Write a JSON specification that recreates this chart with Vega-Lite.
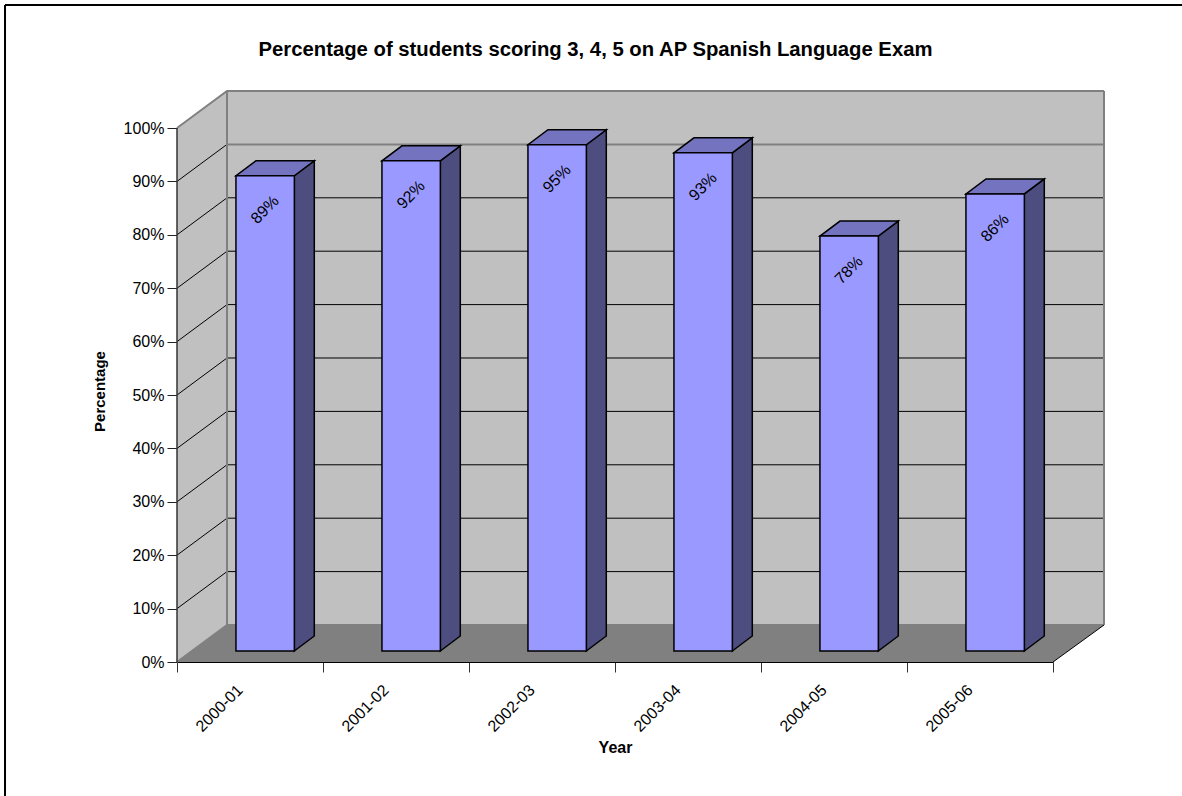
{"$schema":"https://vega.github.io/schema/vega-lite/v6.json","width":927,"height":571,"autosize":{"type":"none"},"padding":{"left":177,"top":91,"right":78,"bottom":134},"background":"white","view":{"stroke":null},
"title":{"text":"Percentage of students scoring 3, 4, 5 on AP Spanish Language Exam","font":"Liberation Sans","fontSize":20.3,"fontWeight":"bold","color":"black","anchor":"middle","frame":"group","dx":-45,"offset":-56},
"datasets":{
"bars":[{"year":"2000-01","value":0.89},{"year":"2001-02","value":0.918},{"year":"2002-03","value":0.948},{"year":"2003-04","value":0.933},{"year":"2004-05","value":0.777},{"year":"2005-06","value":0.856}],
"walls":[{"x":0,"y":0,"y2":1},{"x":0.3425,"y":0.0693,"y2":1.0693},{"x":6.3493,"y":0.0693,"y2":1.0693}],
"floor":[{"x":0,"y":0,"y2":0},{"x":0.3425,"y":0,"y2":0.0693},{"x":6,"y":0,"y2":0.0693},{"x":6.3493,"y":0.0693,"y2":0.0693}],
"grid":[
{"g":0.1,"x":0,"y":0.1},{"g":0.1,"x":0.3425,"y":0.1693},{"g":0.1,"x":6.3493,"y":0.1693},
{"g":0.2,"x":0,"y":0.2},{"g":0.2,"x":0.3425,"y":0.2693},{"g":0.2,"x":6.3493,"y":0.2693},
{"g":0.3,"x":0,"y":0.3},{"g":0.3,"x":0.3425,"y":0.3693},{"g":0.3,"x":6.3493,"y":0.3693},
{"g":0.4,"x":0,"y":0.4},{"g":0.4,"x":0.3425,"y":0.4693},{"g":0.4,"x":6.3493,"y":0.4693},
{"g":0.5,"x":0,"y":0.5},{"g":0.5,"x":0.3425,"y":0.5693},{"g":0.5,"x":6.3493,"y":0.5693},
{"g":0.6,"x":0,"y":0.6},{"g":0.6,"x":0.3425,"y":0.6693},{"g":0.6,"x":6.3493,"y":0.6693},
{"g":0.7,"x":0,"y":0.7},{"g":0.7,"x":0.3425,"y":0.7693},{"g":0.7,"x":6.3493,"y":0.7693},
{"g":0.8,"x":0,"y":0.8},{"g":0.8,"x":0.3425,"y":0.8693},{"g":0.8,"x":6.3493,"y":0.8693},
{"g":0.9,"x":0,"y":0.9},{"g":0.9,"x":0.3425,"y":0.9693}],
"grayLines":[
{"g":"top","x":0,"y":1},{"g":"top","x":0.3425,"y":1.0693},{"g":"top","x":6.3493,"y":1.0693},
{"g":"ninety","x":0.3425,"y":0.9693},{"g":"ninety","x":6.3493,"y":0.9693},
{"g":"floorBack","x":0.3425,"y":0.0693},{"g":"floorBack","x":6.3493,"y":0.0693},
{"g":"floorLeft","x":0,"y":0},{"g":"floorLeft","x":0.3425,"y":0.0693}],
"grayVerticals":[{"x":0.3425,"y":0.0693,"y2":1.0693},{"x":6.3493,"y":0.0693,"y2":1.0693}],
"floorRight":[{"x":6,"y":0},{"x":6.3493,"y":0.0693}],
"leftAxis":[{"x":0,"y":0,"y2":1}],
"frameLeft":[{"x":-1.178,"y":-0.2509,"y2":1.2303}],
"frameTop":[{"x":-1.178,"x2":6.884,"y":1.2303}],
"sides":[
{"year":"2000-01","x":0.8034,"y":0.0206,"y2":0.9106},{"year":"2000-01","x":0.9404,"y":0.0487,"y2":0.9387},
{"year":"2001-02","x":1.8034,"y":0.0206,"y2":0.9386},{"year":"2001-02","x":1.9404,"y":0.0487,"y2":0.9667},
{"year":"2002-03","x":2.8034,"y":0.0206,"y2":0.9686},{"year":"2002-03","x":2.9404,"y":0.0487,"y2":0.9967},
{"year":"2003-04","x":3.8034,"y":0.0206,"y2":0.9536},{"year":"2003-04","x":3.9404,"y":0.0487,"y2":0.9817},
{"year":"2004-05","x":4.8034,"y":0.0206,"y2":0.7976},{"year":"2004-05","x":4.9404,"y":0.0487,"y2":0.8257},
{"year":"2005-06","x":5.8034,"y":0.0206,"y2":0.8766},{"year":"2005-06","x":5.9404,"y":0.0487,"y2":0.9047}],
"tops":[
{"year":"2000-01","x":0.404,"y":0.9106,"y2":0.9106},{"year":"2000-01","x":0.541,"y":0.9106,"y2":0.9387},{"year":"2000-01","x":0.8034,"y":0.9106,"y2":0.9387},{"year":"2000-01","x":0.9404,"y":0.9387,"y2":0.9387},
{"year":"2001-02","x":1.404,"y":0.9386,"y2":0.9386},{"year":"2001-02","x":1.541,"y":0.9386,"y2":0.9667},{"year":"2001-02","x":1.8034,"y":0.9386,"y2":0.9667},{"year":"2001-02","x":1.9404,"y":0.9667,"y2":0.9667},
{"year":"2002-03","x":2.404,"y":0.9686,"y2":0.9686},{"year":"2002-03","x":2.541,"y":0.9686,"y2":0.9967},{"year":"2002-03","x":2.8034,"y":0.9686,"y2":0.9967},{"year":"2002-03","x":2.9404,"y":0.9967,"y2":0.9967},
{"year":"2003-04","x":3.404,"y":0.9536,"y2":0.9536},{"year":"2003-04","x":3.541,"y":0.9536,"y2":0.9817},{"year":"2003-04","x":3.8034,"y":0.9536,"y2":0.9817},{"year":"2003-04","x":3.9404,"y":0.9817,"y2":0.9817},
{"year":"2004-05","x":4.404,"y":0.7976,"y2":0.7976},{"year":"2004-05","x":4.541,"y":0.7976,"y2":0.8257},{"year":"2004-05","x":4.8034,"y":0.7976,"y2":0.8257},{"year":"2004-05","x":4.9404,"y":0.8257,"y2":0.8257},
{"year":"2005-06","x":5.404,"y":0.8766,"y2":0.8766},{"year":"2005-06","x":5.541,"y":0.8766,"y2":0.9047},{"year":"2005-06","x":5.8034,"y":0.8766,"y2":0.9047},{"year":"2005-06","x":5.9404,"y":0.9047,"y2":0.9047}]
},
"resolve":{"scale":{"x":"independent"},"axis":{"x":"independent"}},
"layer":[
{"encoding":{
"x":{"field":"x","type":"quantitative","axis":null,"scale":{"domain":[0,6.3493],"nice":false,"zero":false}},
"y":{"field":"y","type":"quantitative","scale":{"domain":[0,1.0693],"nice":false,"zero":false},
"axis":{"values":[0,0.1,0.2,0.3,0.4,0.5,0.6,0.7,0.8,0.9,1],"format":".0%","grid":false,"domain":false,"tickSize":10,"tickColor":"#222222","tickWidth":1,"labelFont":"Liberation Sans","labelFontSize":16,"labelColor":"black","labelPadding":3,"title":"Percentage","titleFont":"Liberation Sans","titleFontSize":15,"titleFontWeight":"bold","titleColor":"black","titleX":-78,"titleY":300,"titleAngle":-90,"titleAlign":"center","titleBaseline":"middle"}}},
"layer":[
{"data":{"name":"frameLeft"},"mark":{"type":"rule","color":"black","strokeWidth":2},"encoding":{"y2":{"field":"y2"}}},
{"data":{"name":"frameTop"},"mark":{"type":"rule","color":"black","strokeWidth":2},"encoding":{"x2":{"field":"x2"}}},
{"data":{"name":"walls"},"mark":{"type":"area","color":"#C0C0C0"},"encoding":{"y2":{"field":"y2"}}},
{"data":{"name":"floor"},"mark":{"type":"area","color":"#808080"},"encoding":{"y2":{"field":"y2"}}},
{"data":{"name":"grid"},"mark":{"type":"line","color":"black","strokeWidth":1},"encoding":{"detail":{"field":"g"}}},
{"data":{"name":"grayLines"},"mark":{"type":"line","color":"#808080","strokeWidth":2},"encoding":{"detail":{"field":"g"}}},
{"data":{"name":"grayVerticals"},"mark":{"type":"rule","color":"#808080","strokeWidth":2},"encoding":{"y2":{"field":"y2"}}},
{"data":{"name":"floorRight"},"mark":{"type":"line","color":"black","strokeWidth":1},"encoding":{}},
{"data":{"name":"leftAxis"},"mark":{"type":"rule","color":"#333333","strokeWidth":1.5},"encoding":{"y2":{"field":"y2"}}},
{"data":{"name":"sides"},"mark":{"type":"area","color":"#4D4D80","stroke":"black","strokeWidth":1.5},"encoding":{"y2":{"field":"y2"},"detail":{"field":"year"}}},
{"data":{"name":"tops"},"mark":{"type":"area","color":"#7373BF","stroke":"black","strokeWidth":1.5},"encoding":{"y2":{"field":"y2"},"detail":{"field":"year"}}}
]},
{"data":{"name":"bars"},
"encoding":{
"x":{"field":"year","type":"nominal","sort":null,"scale":{"range":[0,876],"paddingInner":0,"paddingOuter":0},
"axis":{"tickBand":"extent","tickSize":10,"tickColor":"#333333","domainColor":"black","labelAngle":-45,"labelFont":"Liberation Sans","labelFontSize":16,"labelColor":"black","labelAlign":"right","labelBaseline":"top","labelPadding":9.5,"labelOffset":-16,"title":"Year","titleFont":"Liberation Sans","titleFontSize":16,"titleFontWeight":"bold","titleColor":"black","titleX":438,"titleY":85,"titleAlign":"center","titleBaseline":"middle"}},
"y":{"field":"value","type":"quantitative"}},
"layer":[
{"mark":{"type":"bar","color":"#9999FF","stroke":"black","strokeWidth":1.5,"width":{"band":0.4},"xOffset":15.15,"yOffset":-11}},
{"mark":{"type":"text","angle":-45,"font":"Liberation Sans","fontSize":16,"color":"black","dx":-5.66,"dy":26.9,"align":"center","baseline":"middle"},"encoding":{"text":{"field":"value","type":"quantitative","format":".0%"}}}
]}
]}
